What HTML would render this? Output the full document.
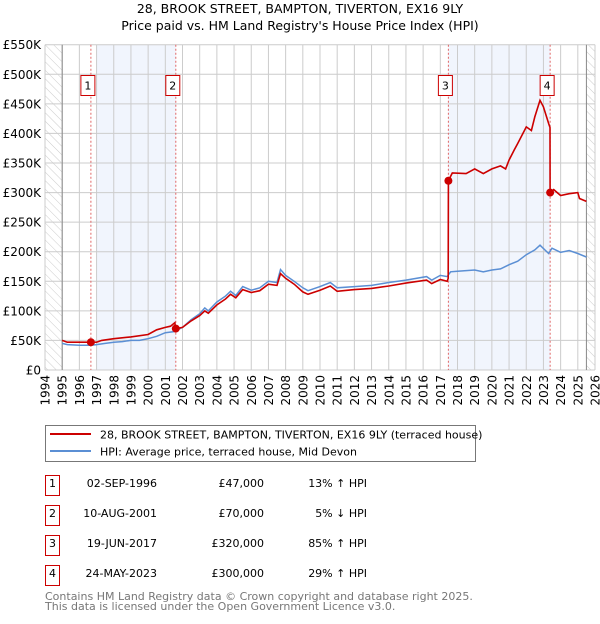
<!DOCTYPE html>
<html><head><meta charset="utf-8">
<style>
body{margin:0;background:#fff;font-family:"DejaVu Sans","Liberation Sans",sans-serif;}
svg text{font-family:"DejaVu Sans","Liberation Sans",sans-serif;}
</style></head>
<body>
<svg id="c" width="600" height="620" viewBox="0 0 600 620" xmlns="http://www.w3.org/2000/svg">
<defs>
<pattern id="hatch" width="6" height="6" patternUnits="userSpaceOnUse" patternTransform="rotate(-45)">
<line x1="0" y1="0" x2="0" y2="6" stroke="#ccc" stroke-width="1"/>
</pattern>
</defs>
<text x="300" y="13" text-anchor="middle" font-size="12.5">28, BROOK STREET, BAMPTON, TIVERTON, EX16 9LY</text>
<text x="300" y="30" text-anchor="middle" font-size="12.5">Price paid vs. HM Land Registry's House Price Index (HPI)</text>
<g id="plot"></g>
<g id="legend">
<rect x="45.5" y="425.5" width="430" height="36" fill="#fff" stroke="#777"/>
<line x1="50" y1="434" x2="91" y2="434" stroke="#cc0000" stroke-width="2"/>
<text x="100" y="438.5" font-size="11">28, BROOK STREET, BAMPTON, TIVERTON, EX16 9LY (terraced house)</text>
<line x1="50" y1="451" x2="91" y2="451" stroke="#5b8fd4" stroke-width="2"/>
<text x="100" y="455.5" font-size="11">HPI: Average price, terraced house, Mid Devon</text>
</g>
<g id="table"></g>
<text x="45" y="600" font-size="11" fill="#777">Contains HM Land Registry data © Crown copyright and database right 2025.</text>
<text x="45" y="610" font-size="11" fill="#777">This data is licensed under the Open Government Licence v3.0.</text>
</svg>
<script>
const hpiYears=[1995.0,1995.3,1996.0,1996.7,1997.0,1997.5,1998.0,1998.5,1999.0,1999.5,2000.0,2000.5,2001.0,2001.5,2002.0,2002.5,2003.0,2003.3,2003.5,2004.0,2004.5,2004.8,2005.1,2005.5,2006.0,2006.5,2007.0,2007.5,2007.7,2008.0,2008.5,2009.0,2009.3,2010.0,2010.6,2011.0,2012.0,2013.0,2014.0,2015.0,2016.2,2016.5,2017.0,2017.4,2017.6,2018.0,2019.0,2019.5,2020.0,2020.5,2021.0,2021.5,2022.0,2022.5,2022.8,2023.3,2023.5,2024.0,2024.5,2025.0,2025.5];
const hpiValues=[45,43,42,42,43,45,47,48,50,50,53,57,63,65,72,85,95,105,100,115,125,133,126,141,135,139,150,148,170,160,150,139,134,141,148,139,141,143,148,152,158,152,160,158,166,167,169,166,169,171,178,184,195,203,211,197,206,199,202,197,191];
const ppYears=[1995.0,1995.3,1996.67,1997.0,1997.3,1998.0,1999.0,2000.0,2000.5,2001.0,2001.3,2001.55,2001.61,2002.0,2002.5,2003.0,2003.3,2003.5,2004.0,2004.5,2004.8,2005.1,2005.5,2006.0,2006.5,2007.0,2007.5,2007.7,2008.0,2008.5,2009.0,2009.3,2010.0,2010.6,2011.0,2012.0,2013.0,2014.0,2015.0,2016.2,2016.5,2017.0,2017.4,2017.46,2017.47,2017.7,2018.5,2019.0,2019.5,2020.0,2020.5,2020.8,2021.0,2021.3,2021.5,2022.0,2022.3,2022.5,2022.8,2023.0,2023.3,2023.38,2023.39,2023.6,2024.0,2024.5,2025.0,2025.1,2025.5];
const ppValues=[50,47,47,47,50,53,56,60,68,72,74,80,70,72,83,92,100,96,110,120,128,122,136,131,134,145,143,163,155,145,132,128,135,142,133,136,138,142,147,152,146,153,150,155,320,333,332,340,332,340,345,340,355,372,383,411,405,428,456,445,417,410,300,305,295,298,300,290,285];
const saleYears=[1996.67,2001.61,2017.47,2023.39];
const salePrices=[47,70,320,300];
const saleLabels=["1","2","3","4"];
const saleDates=["02-SEP-1996","10-AUG-2001","19-JUN-2017","24-MAY-2023"];
const salePriceText=["£47,000","£70,000","£320,000","£300,000"];
const saleHpiText=["13% ↑ HPI","5% ↓ HPI","85% ↑ HPI","29% ↑ HPI"];
const yTicks=[0,50,100,150,200,250,300,350,400,450,500,550];
const xTicks=[1994,1995,1996,1997,1998,1999,2000,2001,2002,2003,2004,2005,2006,2007,2008,2009,2010,2011,2012,2013,2014,2015,2016,2017,2018,2019,2020,2021,2022,2023,2024,2025,2026];

const NS="http://www.w3.org/2000/svg";
const L=45,R=595,T=44.7,B=370;
const xs=y=>L+(y-1994)/32*(R-L);
const ys=v=>B-v/550*(B-T);
const plot=document.getElementById('plot');
function mk(tag,attrs,parent){const e=document.createElementNS(NS,tag);for(const k in attrs)e.setAttribute(k,attrs[k]);(parent||plot).appendChild(e);return e;}

let e;
e=mk('rect',{x:L,y:T,width:R-L,height:B-T,fill:'#fff'});


for(const [a,b] of [[1997.0,saleYears[1]],[saleYears[2],saleYears[3]]]){
 e=mk('rect',{x:xs(a),y:T,width:xs(b)-xs(a),height:B-T,fill:'#eef3fc',opacity:0.8});
 
 
}
e=mk('rect',{x:L,y:T,width:xs(1995)-L,height:B-T,fill:'url(#hatch)'});


e=mk('rect',{x:xs(2025.5),y:T,width:R-xs(2025.5),height:B-T,fill:'url(#hatch)'});


yTicks.forEach(v=>{
 e=mk('line',{x1:L,x2:R,y1:ys(v),y2:ys(v),stroke:'#ccc','stroke-width':1});
 
 
 e=mk('text',{x:L-4,y:ys(v)+4.5,'text-anchor':'end','font-size':12});
 e.textContent=v===0?'£0':'£'+v+'K';
 
 
});
xTicks.forEach(y=>{
 e=mk('line',{x1:xs(y),x2:xs(y),y1:T,y2:B,stroke:'#ccc','stroke-width':1});
 
 
 e=mk('text',{x:0,y:0,'text-anchor':'end','font-size':12,transform:`translate(${xs(y)+4.5},${B+5}) rotate(-90)`});
 e.textContent=y;
 
 
});
e=mk('line',{x1:xs(1995),x2:xs(1995),y1:T,y2:B,stroke:'#888','stroke-width':1});


e=mk('line',{x1:xs(2025.5),x2:xs(2025.5),y1:T,y2:B,stroke:'#888','stroke-width':1});


saleYears.forEach((y,i)=>{
 e=mk('line',{x1:xs(y),x2:xs(y),y1:T,y2:B,stroke:'#e06666','stroke-width':1,'stroke-dasharray':'2,2'});
 
 
 const g=mk('g',{});
 
 
 mk('rect',{x:xs(y)-10,y:75.5,width:14,height:20,fill:'#fff',stroke:'#cc0000','stroke-width':1},g);
 const t=mk('text',{x:xs(y)-3,y:89.5,'text-anchor':'middle','font-size':11},g);
 t.textContent=saleLabels[i];
});
function path(xa,va){return xa.map((x,i)=>(i?'L':'M')+xs(x).toFixed(1)+','+ys(va[i]).toFixed(1)).join('');}
e=mk('path',{d:path(hpiYears,hpiValues),fill:'none',stroke:'#5b8fd4','stroke-width':1.5});


e=mk('path',{d:path(ppYears,ppValues),fill:'none',stroke:'#cc0000','stroke-width':1.6});


saleYears.forEach((y,i)=>{
 e=mk('circle',{cx:xs(y),cy:ys(salePrices[i]),r:4,fill:'#cc0000'});
 
 
});
const tb=document.getElementById('table');
saleYears.forEach((y,i)=>{
 const cy=485+i*30;
 const g=mk('g',{},tb);
 
 
 mk('rect',{x:45.5,y:cy-9.5,width:14,height:20,fill:'#fff',stroke:'#cc0000'},g);
 let t=mk('text',{x:52.5,y:cy+2,'text-anchor':'middle','font-size':11},g);t.textContent=saleLabels[i];
 t=mk('text',{x:157,y:cy+2,'text-anchor':'end','font-size':11},g);t.textContent=saleDates[i];
 t=mk('text',{x:264,y:cy+2,'text-anchor':'end','font-size':11},g);t.textContent=salePriceText[i];
 t=mk('text',{x:367,y:cy+2,'text-anchor':'end','font-size':11},g);t.textContent=saleHpiText[i];
});
</script>
</body></html>
